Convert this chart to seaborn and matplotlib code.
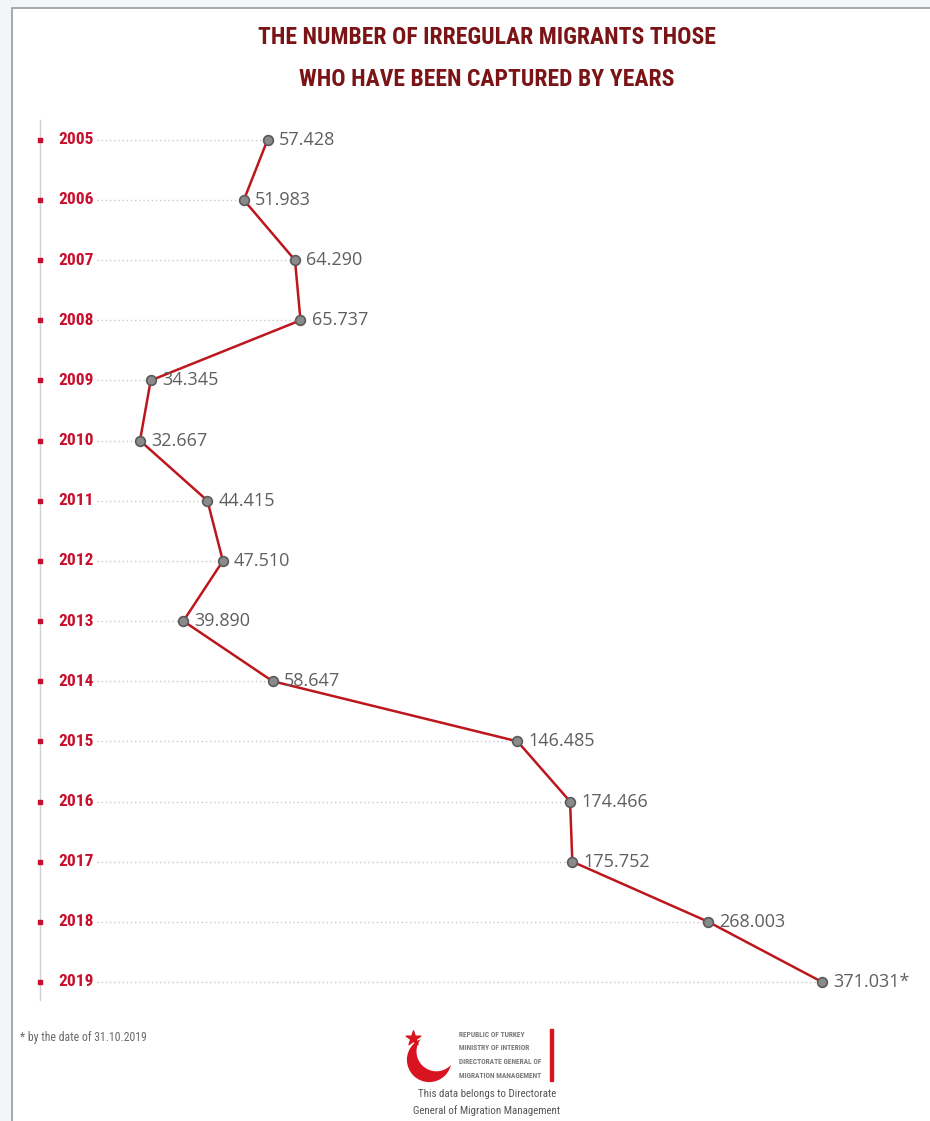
import numpy as np
import pandas as pd
import matplotlib.pyplot as plt
import matplotlib.patches as mpatches
import seaborn as sns

# data
years = [2005, 2006, 2007, 2008, 2009, 2010, 2011, 2012,
         2013, 2014, 2015, 2016, 2017, 2018, 2019]
migrants = [57428, 51983, 64290, 65737, 34345, 32667, 44415, 47510,
            39890, 58647, 146485, 174466, 175752, 268003, 371031]
value_labels = ['57.428', '51.983', '64.290', '65.737', '34.345', '32.667', '44.415', '47.510',
                '39.890', '58.647', '146.485', '174.466', '175.752', '268.003', '371.031*']

title_lines = ['THE NUMBER OF IRREGULAR MIGRANTS THOSE', 'WHO HAVE BEEN CAPTURED BY YEARS']
footnote = '* by the date of 31.10.2019'
logo_lines = ['REPUBLIC OF TURKEY', 'MINISTRY OF INTERIOR', 'DIRECTORATE GENERAL OF', 'MIGRATION MANAGEMENT']
credit_lines = ['This data belongs to Directorate', 'General of Migration Management']

df = pd.DataFrame({'year': years, 'migrants': migrants})

sns.set_style('white')
narrow = ['Roboto Condensed', 'Liberation Sans Narrow', 'DejaVu Sans']
plt.rcParams['font.family'] = ['Open Sans', 'DejaVu Sans']

W, H = 930, 1121
fig = plt.figure(figsize=(W / 100, H / 100), dpi=100)
fig.patch.set_facecolor('#f3f6f8')

# white panel with a gray border
panel = mpatches.Rectangle((12 / W, -0.01), 1.0, (H - 8) / H + 0.01, transform=fig.transFigure,
                           facecolor='white', edgecolor='#9a9a9a', linewidth=1.2, zorder=-5)
fig.patches.append(panel)

ax = fig.add_axes([40 / W, 121 / H, 860 / W, 880 / H])
ax.set_facecolor('none')

# compressed (power) scale for the values, like the infographic
p = 0.22
fwd = lambda x: np.power(np.clip(x, 1e-9, None), p)
inv = lambda x: np.power(np.clip(x, 1e-9, None), 1 / p)
ax.set_xscale('function', functions=(fwd, inv))
lo, hi = fwd(min(migrants)), fwd(max(migrants))
span = hi - lo
ax.set_xlim(inv(lo - span * 100 / 682), inv(hi + span * 78 / 682))
ax.set_ylim(2019.3, 2004.67)
guide_start = inv(lo - span * 43 / 682)

# dotted guide lines from the year label to each point
ax.hlines(years, guide_start, migrants, colors='#c8c8c8', linestyles=(0, (1, 2)), linewidth=1, zorder=1)

sns.lineplot(data=df, x='migrants', y='year', sort=False, ax=ax, color='#bd161d',
             linewidth=1.8, marker='o', markersize=7, markerfacecolor='#8a8a8a',
             markeredgecolor='#5a5a5a', markeredgewidth=1.2, zorder=3)

for v, y, lab in zip(migrants, years, value_labels):
    ax.annotate(lab, (v, y), xytext=(8, 0), textcoords='offset points',
                ha='left', va='center', fontsize=13, color='#5f5f5f')

# year labels and red tick dots along the left line
for y in years:
    ax.text(0.021, y, str(y), transform=ax.get_yaxis_transform(), ha='left', va='center',
            fontsize=12.5, fontweight='bold', color='#c8102e', family=narrow)
ax.scatter(np.zeros(len(years)), years, transform=ax.get_yaxis_transform(), s=7, marker='s',
           color='#c8102e', zorder=4, clip_on=False)

for s in ['top', 'right', 'bottom']:
    ax.spines[s].set_visible(False)
ax.spines['left'].set_color('#d0d0d0')
ax.spines['left'].set_linewidth(1)
ax.set_xticks([])
ax.set_xticks([], minor=True)
ax.set_yticks([])
ax.set_xlabel('')
ax.set_ylabel('')

# title
for i, line in enumerate(title_lines):
    fig.text(487 / W, 1 - (37 + 42 * i) / H, line, ha='center', va='center',
             fontsize=17, fontweight='bold', color='#7a1416', family=narrow)

fig.text(20 / W, 1 - 1037 / H, footnote, ha='left', va='center', fontsize=8.5,
         color='#6a6a6a', family=narrow)

# logo
logo_ax = fig.add_axes([398 / W, 1 - 1085 / H, 60 / W, 60 / H])
logo_ax.set_xlim(0, 1)
logo_ax.set_ylim(0, 1)
logo_ax.axis('off')
logo_ax.add_patch(mpatches.Circle((0.52, 0.42), 0.36, color='#d7141f'))
logo_ax.add_patch(mpatches.Circle((0.64, 0.56), 0.32, color='white'))
logo_ax.scatter([0.25], [0.78], marker='*', s=120, color='#d7141f')

for i, line in enumerate(logo_lines):
    fig.text(459 / W, 1 - (1035 + 13.5 * i) / H, line, ha='left', va='center',
             fontsize=5.4, fontweight='bold', color='#7a7a7a', family=narrow)
fig.patches.append(mpatches.Rectangle((550 / W, 1 - 1081 / H), 3 / W, 52 / H,
                                      transform=fig.transFigure, color='#d7141f'))
for i, line in enumerate(credit_lines):
    fig.text(487 / W, 1 - (1094 + 17 * i) / H, line, ha='center', va='center',
             fontsize=7.8, color='#555555', family=narrow)

fig.savefig('out.png', dpi=100)
